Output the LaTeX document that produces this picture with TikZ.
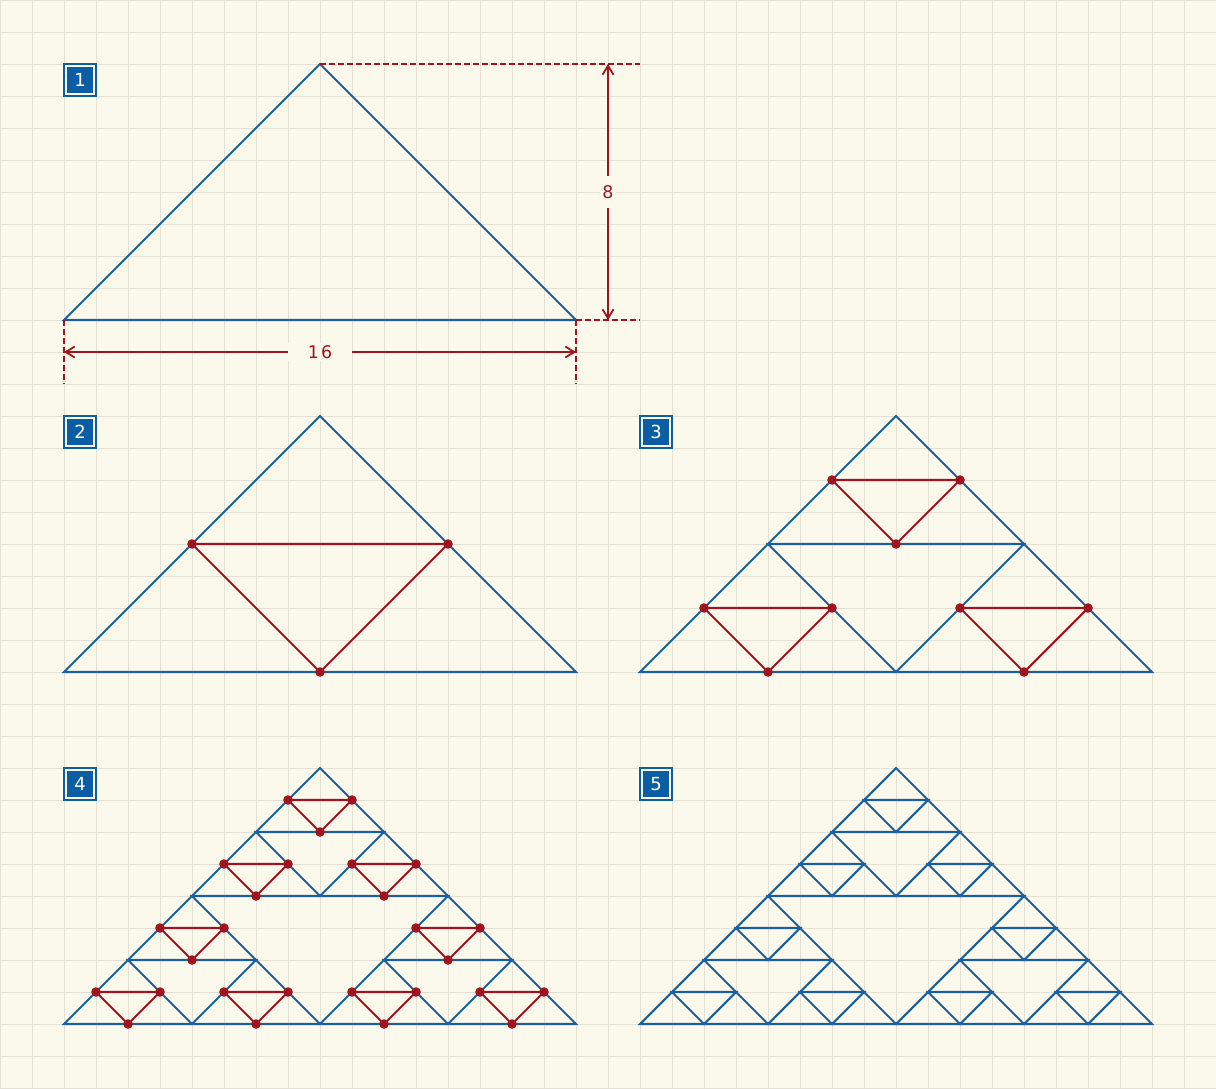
\documentclass[tikz,border=0pt]{standalone}
\usepackage{fontspec}
\setmainfont{DejaVu Sans}
\usetikzlibrary{arrows.meta}
\definecolor{bg}{HTML}{FBF8EC}
\definecolor{gridc}{HTML}{E5E1D4}
\definecolor{bl}{HTML}{1D5E9C}
\definecolor{boxbl}{HTML}{0B5EA4}
\definecolor{rd}{HTML}{A0141E}
\tikzset{
  blueline/.style={draw=bl, line width=1.85pt, line join=miter},
  redline/.style={draw=rd, line width=1.85pt},
  dimdash/.style={draw=rd, line width=1.6pt, dash pattern=on 5.3pt off 2.7pt},
  dimarrow/.style={draw=rd, line width=1.6pt, {Straight Barb[length=0.28cm,width=0.34cm]}-{Straight Barb[length=0.28cm,width=0.34cm]}},
  dimlabel/.style={fill=bg, text=rd, font=\fontsize{15.5}{18}\selectfont, inner sep=2pt},
  dot/.style={circle, fill=rd, inner sep=0, minimum size=0.3cm},
  tag/.style={draw=boxbl, double=bg, double distance=0.065cm, line width=0.06cm, fill=boxbl,
    minimum size=0.87cm, inner sep=0, text=white, font=\fontsize{16}{19}\selectfont}
}
% inverted triangle: apex x, apex y, size b, style
\newcommand{\invtri}[4]{%
  \draw[#4] ({#1-#3/2},{#2-#3/2}) -- ({#1+#3/2},{#2-#3/2}) -- (#1,{#2-#3}) -- cycle;}
\newcommand{\invdots}[3]{%
  \node[dot] at ({#1-#3/2},{#2-#3/2}) {};
  \node[dot] at ({#1+#3/2},{#2-#3/2}) {};
  \node[dot] at (#1,{#2-#3}) {};}
\newcommand{\bigtri}[2]{%
  \draw[blueline] (#1,#2) -- ({#1+8},{#2-8}) -- ({#1-8},{#2-8}) -- cycle;}
\begin{document}
\begin{tikzpicture}[x=1cm,y=1cm]
\useasboundingbox (0,0) rectangle (38,-34);
\fill[bg] (0,0) rectangle (38,-34);
\draw[gridc, line width=0.8pt] (0,0) grid (38,-34);

% ---- panel 1
\bigtri{10}{-2}
\draw[dimdash] (10,-2) -- (20,-2);
\draw[dimdash] (18,-10) -- (20,-10);
\draw[dimdash] (2,-10) -- (2,-12);
\draw[dimdash] (18,-10) -- (18,-12);
\coordinate (vt) at (19,-2);
\coordinate (vb) at (19,-10);
\coordinate (hl) at (2,-11);
\coordinate (hr) at (18,-11);
\draw[dimarrow] (vt) -- node[dimlabel, inner ysep=8pt] (l8) {8} (vb);
\draw[dimarrow] (hl) -- node[dimlabel, inner xsep=18pt] (l16) {1\kern2pt 6} (hr);
\node[tag] (t1) at (2.5,-2.5) {1};

% ---- panel 2
\bigtri{10}{-13}
\invtri{10}{-13}{8}{redline}
\invdots{10}{-13}{8}
\node[tag] (t2) at (2.5,-13.5) {2};

% ---- panel 3
\bigtri{28}{-13}
\invtri{28}{-13}{8}{blueline}
\foreach \dx/\dy in {0/0,-4/-4,4/-4}{
  \invtri{28+\dx}{-13+\dy}{4}{redline}
  \invdots{28+\dx}{-13+\dy}{4}
}
\node[tag] (t3) at (20.5,-13.5) {3};

% ---- panel 4
\bigtri{10}{-24}
\invtri{10}{-24}{8}{blueline}
\foreach \dx/\dy in {0/0,-4/-4,4/-4}{
  \invtri{10+\dx}{-24+\dy}{4}{blueline}
}
\foreach \dx/\dy in {0/0,-4/-4,4/-4}{
  \foreach \ex/\ey in {0/0,-2/-2,2/-2}{
    \invtri{10+\dx+\ex}{-24+\dy+\ey}{2}{redline}
    \invdots{10+\dx+\ex}{-24+\dy+\ey}{2}
  }
}
\node[tag] (t4) at (2.5,-24.5) {4};

% ---- panel 5
\bigtri{28}{-24}
\invtri{28}{-24}{8}{blueline}
\foreach \dx/\dy in {0/0,-4/-4,4/-4}{
  \invtri{28+\dx}{-24+\dy}{4}{blueline}
  \foreach \ex/\ey in {0/0,-2/-2,2/-2}{
    \invtri{28+\dx+\ex}{-24+\dy+\ey}{2}{blueline}
  }
}
\node[tag] (t5) at (20.5,-24.5) {5};
\end{tikzpicture}
\end{document}
